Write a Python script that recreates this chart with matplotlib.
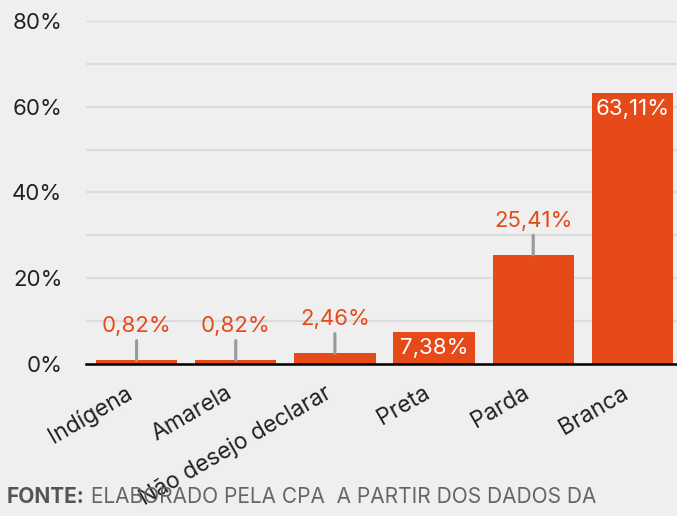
import matplotlib
matplotlib.use("Agg")
import matplotlib.pyplot as plt
from matplotlib.ticker import MultipleLocator, FuncFormatter

categories = ["Indígena", "Amarela", "Não desejo declarar", "Preta", "Parda", "Branca"]
values = [0.82, 0.82, 2.46, 7.38, 25.41, 63.11]
label_inside = [False, False, False, True, False, True]
footer_bold = "FONTE:"
footer_text = " ELABORADO PELA CPA  A PARTIR DOS DADOS DA"

FONT = ["Inter", "DejaVu Sans"]
plt.rcParams["font.family"] = FONT

BG = "#EFEFEF"
BAR = "#E64A19"
fig = plt.figure(figsize=(6.77, 5.16), dpi=100, facecolor=BG)
ax = fig.add_axes([86/677, 1-364/516, 1-86/677, (364-21)/516])
ax.set_facecolor(BG)

x = list(range(len(categories)))
ax.bar(x, values, width=0.82, color=BAR, zorder=3)

ax.set_xlim(-0.51, 5.45)
ax.set_ylim(0, 80)
ax.yaxis.set_major_locator(MultipleLocator(20))
ax.yaxis.set_minor_locator(MultipleLocator(10))
ax.yaxis.set_major_formatter(FuncFormatter(lambda v, p: f"{int(v)}%"))
ax.grid(axis="y", which="both", color="#DCDCDC", lw=1.6, zorder=0)
ax.set_axisbelow(True)
for s in ["left", "right", "top"]:
    ax.spines[s].set_visible(False)
ax.spines["bottom"].set_color("black")
ax.spines["bottom"].set_linewidth(1.8)
ax.spines["bottom"].set_zorder(5)
ax.tick_params(axis="y", which="both", length=0, pad=17, labelsize=16, labelcolor="#222222")
ax.tick_params(axis="x", length=0, pad=13)
ax.set_xticks(x)
ax.set_xticklabels(categories, rotation=30, ha="right", fontsize=16.5, color="#222222")

px = 0.72
for i, (v, inside) in enumerate(zip(values, label_inside)):
    txt = f"{v:.2f}%".replace(".", ",")
    if inside:
        ax.annotate(txt, xy=(i, v), xytext=(0, -6*px), textcoords="offset points",
                    ha="center", va="top", fontsize=16, color="white", zorder=6)
    else:
        ax.annotate(txt, xy=(i, v), xytext=(0, 24*px), textcoords="offset points",
                    ha="center", va="bottom", fontsize=16, color="#E64A19", zorder=6,
                    arrowprops=dict(arrowstyle="-", color="#999999", lw=2.2,
                                    shrinkA=1, shrinkB=0))

t1 = fig.text(7/677, 1-497/516, footer_bold, fontsize=15, fontweight="bold",
              color="#555555", va="center", ha="left")
fig.canvas.draw()
bb = t1.get_window_extent()
fig.text(bb.x1/677, 1-497/516, footer_text, fontsize=15, color="#666666",
         va="center", ha="left")

fig.savefig("out.png", dpi=100, facecolor=BG)
